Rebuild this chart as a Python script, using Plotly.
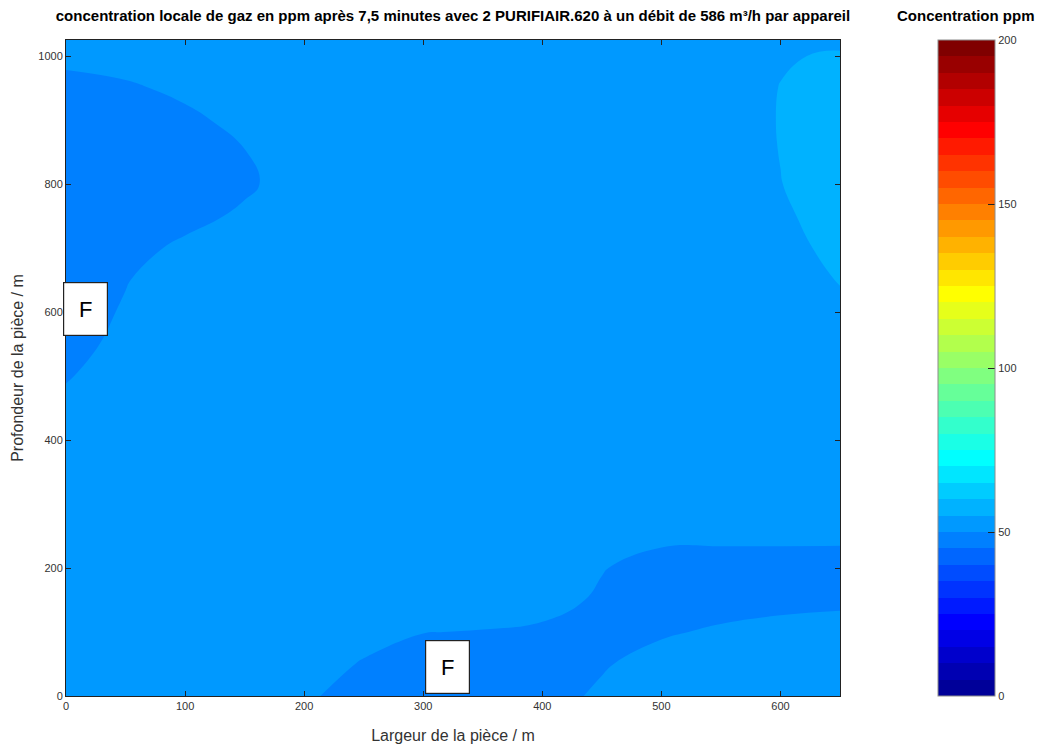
import plotly.graph_objects as go

# Grid of the room (m)
x_m = [0, 50, 100, 150, 200, 250, 300, 350, 400, 450, 500, 550, 600, 650]
y_m = [0, 50, 100, 150, 200, 250, 300, 350, 400, 450, 500,
       550, 600, 650, 700, 750, 800, 850, 900, 950, 1000, 1025]

# Local gas concentration (ppm), one row per y value
conc_ppm = [
    [52.5, 52.5, 52.5, 52.5, 50.6, 48.4, 47.5, 47.5, 48.4, 50.7, 52.5, 52.5, 52.5, 52.5],  # 0
    [52.5, 52.5, 52.5, 52.5, 51.8, 49.7, 47.9, 47.5, 47.5, 49.6, 51.6, 52.5, 52.5, 52.5],  # 50
    [52.5, 52.5, 52.5, 52.5, 52.5, 51.4, 50.1, 49.8, 49.3, 48.1, 49.5, 50.6, 51.3, 51.6],  # 100
    [52.5, 52.5, 52.5, 52.5, 52.5, 52.5, 52.5, 52.3, 51.5, 49.4, 47.5, 48.2, 48.8, 49.2],  # 150
    [52.5, 52.5, 52.5, 52.5, 52.5, 52.5, 52.5, 52.5, 52.5, 50.2, 48.4, 48.3, 48.3, 48.2],  # 200
    [52.5, 52.5, 52.5, 52.5, 52.5, 52.5, 52.5, 52.5, 52.5, 51.7, 50.9, 50.8, 50.8, 50.8],  # 250
    [52.5, 52.5, 52.5, 52.5, 52.5, 52.5, 52.5, 52.5, 52.5, 52.5, 52.5, 52.5, 52.5, 52.5],  # 300
    [52.5, 52.5, 52.5, 52.5, 52.5, 52.5, 52.5, 52.5, 52.5, 52.5, 52.5, 52.5, 52.5, 52.5],  # 350
    [52.5, 52.5, 52.5, 52.5, 52.5, 52.5, 52.5, 52.5, 52.5, 52.5, 52.5, 52.5, 52.5, 52.5],  # 400
    [51.0, 52.5, 52.5, 52.5, 52.5, 52.5, 52.5, 52.5, 52.5, 52.5, 52.5, 52.5, 52.5, 52.5],  # 450
    [49.7, 51.9, 52.5, 52.5, 52.5, 52.5, 52.5, 52.5, 52.5, 52.5, 52.5, 52.5, 52.5, 52.5],  # 500
    [48.7, 51.0, 52.5, 52.5, 52.5, 52.5, 52.5, 52.5, 52.5, 52.5, 52.5, 52.5, 52.5, 52.9],  # 550
    [48.0, 50.4, 52.5, 52.5, 52.5, 52.5, 52.5, 52.5, 52.5, 52.5, 52.5, 52.5, 52.5, 54.1],  # 600
    [47.5, 49.8, 52.1, 52.5, 52.5, 52.5, 52.5, 52.5, 52.5, 52.5, 52.5, 52.5, 53.0, 55.2],  # 650
    [47.5, 48.8, 50.7, 52.5, 52.5, 52.5, 52.5, 52.5, 52.5, 52.5, 52.5, 52.5, 53.6, 56.2],  # 700
    [47.5, 47.5, 48.9, 50.6, 52.5, 52.5, 52.5, 52.5, 52.5, 52.5, 52.5, 52.5, 54.3, 56.9],  # 750
    [47.5, 47.5, 47.5, 49.4, 51.8, 52.5, 52.5, 52.5, 52.5, 52.5, 52.5, 52.5, 54.9, 57.4],  # 800
    [47.5, 47.5, 47.5, 49.9, 52.2, 52.5, 52.5, 52.5, 52.5, 52.5, 52.5, 52.6, 55.1, 57.5],  # 850
    [47.5, 47.5, 49.1, 51.2, 52.5, 52.5, 52.5, 52.5, 52.5, 52.5, 52.5, 52.6, 55.2, 57.5],  # 900
    [48.7, 49.4, 50.9, 52.5, 52.5, 52.5, 52.5, 52.5, 52.5, 52.5, 52.5, 52.6, 55.1, 57.5],  # 950
    [51.0, 51.8, 52.5, 52.5, 52.5, 52.5, 52.5, 52.5, 52.5, 52.5, 52.5, 52.5, 54.6, 55.5],  # 1000
    [52.2, 52.5, 52.5, 52.5, 52.5, 52.5, 52.5, 52.5, 52.5, 52.5, 52.5, 52.5, 53.6, 54.0],  # 1025
]

# Purifier positions (m)
purifier_x = [16, 320]
purifier_y = [604, 45]
purifier_label = ["F", "F"]

cbar_ticks = [0, 50, 100, 150, 200]
n_levels = 40
z_min, z_max = 0, 200

title_text = ("concentration locale de gaz en ppm après 7,5 minutes avec 2 "
              "PURIFIAIR.620 à un débit de 586 m³/h par appareil")
cbar_title = "Concentration ppm"


def jet(m):
    """MATLAB-style jet colormap with m entries, as rgb strings."""
    n = -(-m // 4)
    u = [i / n for i in range(1, n + 1)] + [1.0] * (n - 1) + [i / n for i in range(n, 0, -1)]
    g0 = -(-n // 2) - (1 if m % 4 == 1 else 0)
    r, g, b = [0.0] * m, [0.0] * m, [0.0] * m
    for k, val in enumerate(u, start=1):
        gi = g0 + k
        ri = gi + n
        bi = gi - n
        if 1 <= gi <= m:
            g[gi - 1] = val
        if 1 <= ri <= m:
            r[ri - 1] = val
        if 1 <= bi <= m:
            b[bi - 1] = val
    return ["rgb(%d,%d,%d)" % (round(255 * r[i]), round(255 * g[i]), round(255 * b[i]))
            for i in range(m)]


jet_colors = jet(n_levels)
stepped_scale = []
for i, c in enumerate(jet_colors):
    stepped_scale.append([i / n_levels, c])
    stepped_scale.append([(i + 1) / n_levels, c])

FONT = "Liberation Sans, Arial, sans-serif"

# plot area in pixels
W, H = 1041, 751
L, R, T, B = 66, 201, 40, 55
PW, PH = W - L - R, H - T - B
CB_LEFT, CB_THICK = 938, 57

fig = go.Figure()

fig.add_trace(go.Contour(
    x=x_m, y=y_m, z=conc_ppm,
    zmin=z_min, zmax=z_max, zauto=False,
    colorscale=stepped_scale,
    autocontour=False,
    contours=dict(start=z_min, end=z_max, size=(z_max - z_min) / n_levels,
                  coloring="fill", showlines=False),
    line=dict(width=0, smoothing=1.3),
    showscale=False,
    hoverinfo="x+y+z",
))

# Colour scale bar
fig.add_trace(go.Scatter(
    x=[None], y=[None], mode="markers",
    marker=dict(color=[z_min], cmin=z_min, cmax=z_max, colorscale=stepped_scale,
                showscale=True,
                colorbar=dict(
                    x=(CB_LEFT - L) / PW, xanchor="left", xpad=0,
                    y=0.5, yanchor="middle", ypad=0, len=1, lenmode="fraction",
                    thickness=CB_THICK, outlinewidth=1, outlinecolor="#8c8c8c",
                    tickvals=cbar_ticks, ticks="inside", ticklen=7,
                    tickcolor="#222222", tickwidth=1,
                    tickfont=dict(family=FONT, size=11, color="#333333"),
                )),
    hoverinfo="skip", showlegend=False,
))

# tick marks on the left side of the colour bar
shapes = []
for v in cbar_ticks[1:-1]:
    yy = (v - z_min) / (z_max - z_min)
    shapes.append(dict(type="line", xref="paper", yref="paper",
                       x0=(CB_LEFT - L) / PW, x1=(CB_LEFT - L + 7) / PW,
                       y0=yy, y1=yy, line=dict(color="#222222", width=1)))

annotations = []
for px, py, lab in zip(purifier_x, purifier_y, purifier_label):
    annotations.append(dict(
        x=px, y=py, xref="x", yref="y", text=lab, showarrow=False,
        xanchor="center", yanchor="middle",
        width=43, height=52, borderpad=0, borderwidth=1.2,
        bordercolor="#222222", bgcolor="white",
        font=dict(family=FONT, size=22, color="black"),
    ))

annotations.append(dict(
    x=(CB_LEFT + CB_THICK / 2 - L) / PW, y=(H - B - 16) / PH,
    xref="paper", yref="paper", text="<b>" + cbar_title + "</b>",
    xanchor="center", yanchor="middle",
    showarrow=False, font=dict(family=FONT, size=15, color="black"),
))

fig.update_layout(
    width=W, height=H,
    margin=dict(l=L, r=R, t=T, b=B, autoexpand=False),
    paper_bgcolor="white", plot_bgcolor="white",
    font=dict(family=FONT, color="#333333"),
    title=dict(text="<b>" + title_text + "</b>", x=0.5, xref="paper",
               y=1 - 16 / H, yref="container", yanchor="middle",
               font=dict(family=FONT, size=15, color="black")),
    xaxis=dict(range=[0, 650], tickvals=[0, 100, 200, 300, 400, 500, 600],
               ticks="inside", ticklen=5, tickcolor="#222222",
               showline=True, linecolor="#222222", linewidth=1, mirror="ticks",
               showgrid=False, zeroline=False, automargin=False,
               tickfont=dict(family=FONT, size=11, color="#333333"),
               title=dict(text="Largeur de la pièce / m", standoff=18,
                          font=dict(family=FONT, size=16, color="#333333"))),
    yaxis=dict(range=[0, 1025], tickvals=[0, 200, 400, 600, 800, 1000],
               ticks="inside", ticklen=5, tickcolor="#222222",
               showline=True, linecolor="#222222", linewidth=1, mirror="ticks",
               showgrid=False, zeroline=False, automargin=False,
               tickfont=dict(family=FONT, size=11, color="#333333"),
               title=dict(text="Profondeur de la pièce / m", standoff=10,
                          font=dict(family=FONT, size=16, color="#333333"))),
    annotations=annotations,
    shapes=shapes,
)

fig.write_html("out.html")
